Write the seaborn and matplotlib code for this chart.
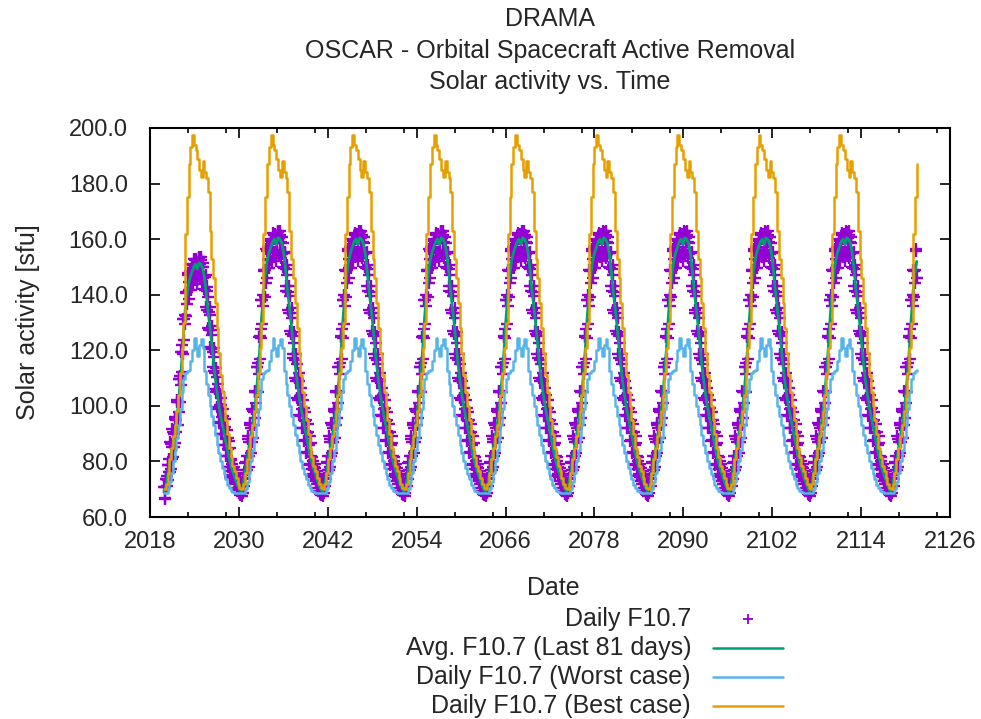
import numpy as np
import pandas as pd
import matplotlib
matplotlib.use("Agg")
import matplotlib.pyplot as plt
import seaborn as sns
from matplotlib.lines import Line2D
from matplotlib.ticker import FixedLocator, FormatStrFormatter

# ---------------- data ----------------
# years of the solar-cycle minima (start of each repeated cycle)
cycle_start_years = [2019.9, 2030.3, 2041.3, 2052.3, 2063.3, 2074.25,
                     2085.2, 2096.15, 2107.05, 2118.0]
# the first cycle is slightly shorter than the others
cycle_time_scale = [0.945, 1, 1, 1, 1, 1, 1, 1, 1, 1]
series_start_year = 2019.9
series_end_year = 2121.5

# one solar cycle, sampled every 0.25 year after the minimum
avg_cycle = [69, 71, 75.5, 80, 84, 88, 92, 97, 103, 111, 120, 131, 140, 147, 152, 155,
             157, 159, 160, 158, 160.5, 160, 158.5, 155, 149, 142, 136, 130, 123, 116,
             110, 105, 100.5, 97, 93.5, 90, 86.5, 83, 80, 77.5, 75.5, 73.5, 71.5, 70]
worst_cycle = [68.5, 68.5, 70, 72.5, 76, 80, 84, 88.5, 93, 99, 105, 109.5, 112, 112.5,
               113, 116, 120, 124.5, 121, 118, 122, 124, 121, 112.5, 108, 104, 100, 96.5,
               93, 89.5, 86, 83, 80, 77.5, 75.5, 73.5, 71.5, 70.5, 69.5, 69, 68.5, 68.5,
               68.5, 68.5]
best_cycle = [70, 72, 76, 81, 85, 89, 93, 98, 104, 112, 121, 130, 162, 175, 187, 193,
              197.5, 194, 192, 189, 185, 182.5, 188, 184, 182, 177, 163, 153, 146, 137,
              128, 119, 111, 105, 100, 95, 90, 85, 81.5, 78.5, 76.5, 74, 72, 70.5]
# first (weaker) cycle of the averaged flux
avg_first_cycle = [69.1, 70.9, 74.95, 79, 82.6, 86.2, 89.8, 94.3, 99.7, 106.9, 115,
                   124.9, 133, 139.3, 143.8, 146.5, 148.3, 150.1, 151, 149.2, 151.45,
                   151, 149.65, 146.5, 141.1, 134.8, 129.4, 124, 117.7, 111.4, 106,
                   101.5, 97.45, 94.3, 91.15, 88, 84.85, 81.7, 79, 76.75, 74.95, 73.15,
                   71.35, 70]

# daily flux, sampled every 1/16 year after the minimum
daily_cycle = [
    71, 67.5, 71, 68.5, 74, 74.1, 71.25, 75.4, 73.5, 79.6, 79.75, 76.9, 82, 77, 89, 88,
    78, 87, 82, 94, 93, 83, 92, 87, 99, 98.25, 88.5, 97.75, 93, 105.5, 105, 95.5,
    105, 101, 114, 114, 105, 115.25, 111.5, 124.75, 125, 116.75, 127.5, 124.25, 138,
    138.25, 129.5, 139.75, 136, 148.75, 148.5, 139.25, 149, 144.25, 156.5, 155.75,
    146, 152.75, 149.5, 157.25, 157, 149.5, 156, 152.5, 160, 159.5, 152, 158.5, 155,
    162.25, 161.5, 153.75, 160, 155.5, 162, 160.5, 152, 158.6, 155.25, 162.9, 162.5,
    154.4, 160.25, 156.1, 163, 161.6, 153.25, 158.9, 154.5, 160.6, 158.75, 149.9, 155,
    149.5, 155, 155.5, 143, 149.25, 141.5, 150.75, 147, 134.5, 141, 133.5, 143, 139.5,
    127, 133.5, 126, 135.25, 131.5, 118.75, 125, 117.25, 126.5, 122.75, 110, 116.5, 109,
    118.5, 115, 102.75, 109.5, 102.25, 112, 108.9, 96.75, 103.6, 96.5, 106.6, 103.75,
    91.9, 99, 92.1, 102.25, 99.4, 87.5, 94.6, 87.75, 97.9, 95, 83.1, 90.25, 83.4, 93.5,
    90.6, 78.75, 85.9, 79, 89.25, 86.5, 74.75, 82, 77.4, 81.75, 80.1, 75.5, 78, 74.5, 79,
    77.5, 73, 75.5, 72, 76.5, 75, 70.5, 73, 69.5, 74.1, 72.75, 68.4, 71, 67.75, 72.5,
    71.25]
daily_first_cycle = [
    70.9, 66.5, 70.9, 67, 73.6, 73.7, 71.1, 74.9, 73.15, 78.6, 78.8, 76.2, 80.8, 76.3,
    87.1, 86.2, 77.2, 85.3, 80.8, 91.6, 90.7, 81.7, 89.8, 85.3, 96.1, 95.4, 86.65, 95,
    90.7, 101.95, 101.5, 92.95, 101.5, 97.9, 109.6, 109.6, 101.5, 110.7, 107.35, 119.3,
    119.5, 112.1, 121.75, 118.8, 131.2, 131.4, 123.55, 132.8, 129.4, 140.9, 140.65,
    132.3, 141.1, 136.8, 147.85, 147.2, 138.4, 144.5, 141.55, 148.5, 148.3, 141.55,
    147.4, 144.25, 151, 150.55, 143.8, 149.65, 146.5, 153, 152.35, 145.4, 151, 146.95,
    152.8, 151.45, 143.8, 149.7, 146.7, 153.6, 153.25, 145.95, 151.2, 147.5, 153.7,
    152.45, 144.9, 150, 146.05, 151.55, 149.9, 141.9, 146.5, 141.55, 146.5, 146.95,
    135.7, 141.3, 134.35, 142.7, 139.3, 128.05, 133.9, 127.15, 135.7, 132.55, 121.3,
    127.15, 120.4, 128.7, 125.35, 113.9, 119.5, 112.5, 120.85, 117.5, 106, 111.85, 105.1,
    113.65, 110.5, 99.5, 105.55, 99, 107.8, 105, 94.1, 100.25, 93.85, 102.95, 100.4, 89.7,
    96.1, 89.9, 99, 96.45, 85.75, 92.15, 85.95, 95.1, 92.5, 81.8, 88.2, 82.05, 91.15,
    88.55, 77.9, 84.3, 78.1, 87.3, 84.85, 74.3, 80.8, 76.65, 80.6, 79.1, 74.95, 77.2,
    74.05, 78.1, 76.75, 72.7, 74.95, 71.8, 75.85, 74.5, 70.45, 72.7, 69.55, 73.7, 72.5,
    68.55, 70.9, 67.95, 72.25, 71.1]

line_step = 0.25
daily_step = 1 / 16

# ---------------- assemble series ----------------
def build(cycle, first, step):
    xs, ys = [], []
    for i, s in enumerate(cycle_start_years):
        vals = first if (i == 0 and first is not None) else cycle
        for k, v in enumerate(vals):
            x = s + k * step * cycle_time_scale[i]
            if series_start_year <= x <= series_end_year:
                xs.append(x)
                ys.append(v)
    return pd.DataFrame({"year": xs, "value": ys})

df_daily = build(daily_cycle, daily_first_cycle, daily_step)
df_avg = build(avg_cycle, avg_first_cycle, line_step)
df_worst = build(worst_cycle, None, line_step)
df_best = build(best_cycle, None, line_step)

c_daily = "#9400D3"
c_avg = "#009E73"
c_worst = "#56B4E9"
c_best = "#E69F00"

# ---------------- figure ----------------
sns.set_style("ticks")
plt.rcParams["font.family"] = ["Liberation Sans", "DejaVu Sans"]
fs_tick = 17
fs = 18

fig = plt.figure(figsize=(9.81, 7.19), dpi=100)
ax = fig.add_axes([150 / 981, 1 - 517 / 719, 800 / 981, 389 / 719])

sns.scatterplot(data=df_daily, x="year", y="value", ax=ax, marker="+", s=85,
                color=c_daily, linewidth=1.7, legend=False, zorder=2)
sns.lineplot(data=df_avg, x="year", y="value", ax=ax, color=c_avg, lw=2,
             estimator=None, sort=False, legend=False, zorder=3)
sns.lineplot(data=df_worst, x="year", y="value", ax=ax, color=c_worst, lw=1.8,
             estimator=None, sort=False, legend=False, drawstyle="steps-post", zorder=4)
sns.lineplot(data=df_best, x="year", y="value", ax=ax, color=c_best, lw=1.8,
             estimator=None, sort=False, legend=False, drawstyle="steps-post", zorder=5)

ax.set_xlim(2018, 2126)
ax.set_ylim(60, 200)
majors = list(range(2018, 2127, 12))
ax.xaxis.set_major_locator(FixedLocator(majors))
minors = []
for m in majors[:-1]:
    minors += [m + 5.13, m + 10.26]
ax.xaxis.set_minor_locator(FixedLocator(minors))
ax.yaxis.set_major_locator(FixedLocator(list(range(60, 201, 20))))
ax.yaxis.set_major_formatter(FormatStrFormatter("%.1f"))
ax.tick_params(which="major", direction="in", length=7, width=1.2, top=True,
               right=True, labelsize=fs_tick, color="black")
ax.tick_params(which="minor", direction="in", length=3.5, width=1.2, top=True,
               right=True, color="black")
ax.tick_params(axis="y", pad=16)
ax.tick_params(axis="x", pad=10)
for sp in ax.spines.values():
    sp.set_visible(True)
    sp.set_linewidth(1.5)
    sp.set_color("black")
ax.set_xlabel("")
ax.set_ylabel("")

# titles and axis labels
fig.text(550 / 981, 1 - 19 / 719, "DRAMA", ha="center", va="center", fontsize=fs)
fig.text(550 / 981, 1 - 51 / 719, "OSCAR - Orbital Spacecraft Active Removal",
         ha="center", va="center", fontsize=fs)
fig.text(550 / 981, 1 - 82 / 719, "Solar activity vs. Time", ha="center",
         va="center", fontsize=fs)
fig.text(28 / 981, 1 - 322 / 719, "Solar activity [sfu]", rotation=90,
         ha="center", va="center", fontsize=fs)
fig.text(553 / 981, 1 - 588 / 719, "Date", ha="center", va="center", fontsize=fs)

# legend (right-aligned text, sample on the right)
leg_rows = [("Daily F10.7", c_daily, "marker", 619),
            ("Avg. F10.7 (Last 81 days)", c_avg, "line", 648),
            ("Daily F10.7 (Worst case)", c_worst, "line", 677),
            ("Daily F10.7 (Best case)", c_best, "line", 706)]
for label, col, kind, ypx in leg_rows:
    yf = 1 - ypx / 719
    fig.text(691 / 981, yf, label, ha="right", va="center", fontsize=fs)
    if kind == "line":
        fig.add_artist(Line2D([713 / 981, 783 / 981], [yf, yf], color=col, lw=1.8,
                              transform=fig.transFigure))
    else:
        fig.add_artist(Line2D([748 / 981], [yf], color=col, marker="+", ms=7, mew=1.3,
                              ls="none", transform=fig.transFigure))

fig.savefig("out.png", dpi=100)
